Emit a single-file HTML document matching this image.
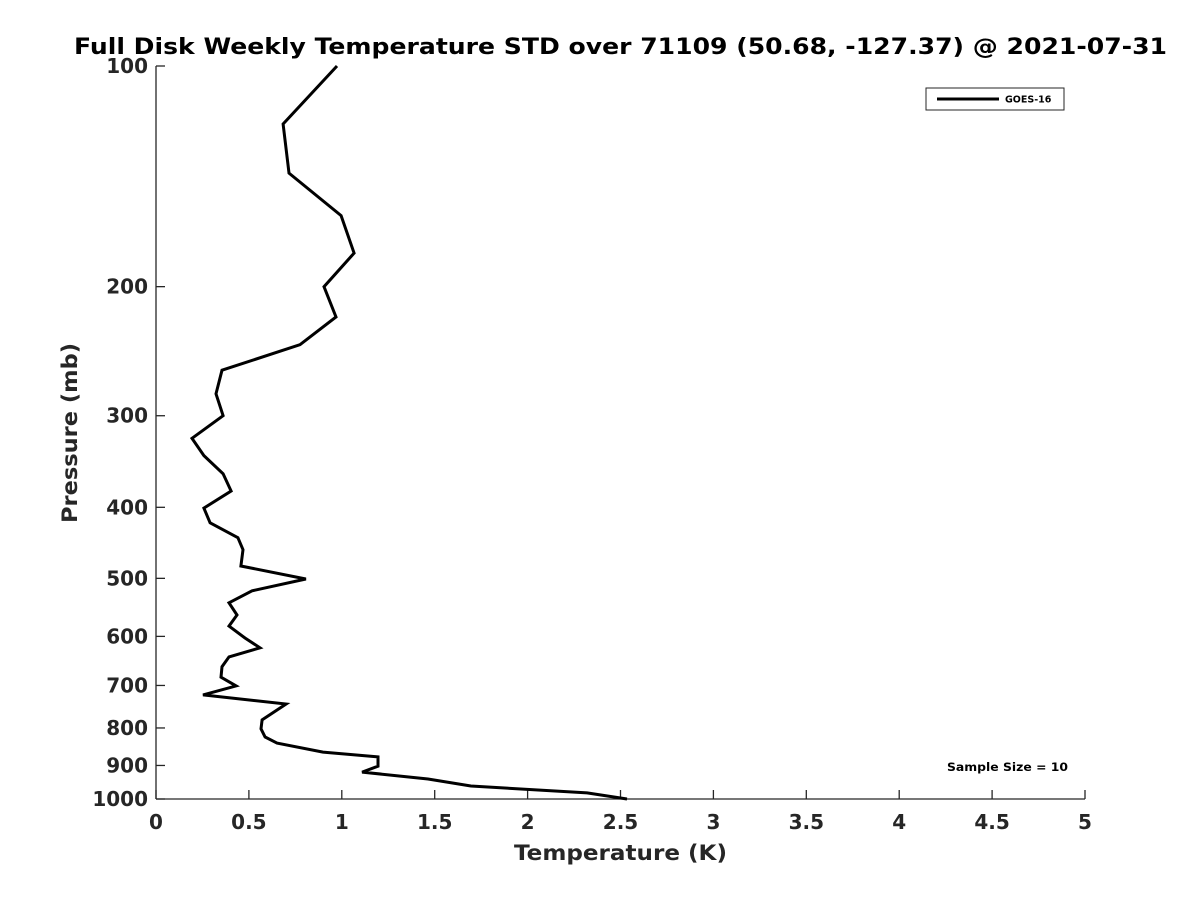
<!DOCTYPE html>
<html><head><meta charset="utf-8"><style>
body{margin:0;background:#fff;}
svg text{font-family:"DejaVu Sans","Liberation Sans",sans-serif;font-weight:bold;fill:#262626;}
</style></head><body>
<svg id="chart" width="1200" height="900" xmlns="http://www.w3.org/2000/svg">
<rect width="1200" height="900" fill="#fff"/>
<text x="74" y="54" font-size="22" textLength="1093" lengthAdjust="spacingAndGlyphs" style="fill:#000">Full Disk Weekly Temperature STD over 71109 (50.68, -127.37) @ 2021-07-31</text>
<g id="axes"></g>
<path id="series" fill="none" stroke="#000" stroke-width="3" stroke-linejoin="miter"/>
<g>
<rect x="926" y="88" width="138" height="22" fill="#fff" stroke="#262626" stroke-width="1"/>
<line x1="937" y1="99" x2="999" y2="99" stroke="#000" stroke-width="3"/>
<text x="1005" y="102.5" font-size="9.5" style="fill:#000">GOES-16</text>
</g>
<text x="947" y="771" font-size="11.5" textLength="121" lengthAdjust="spacingAndGlyphs" style="fill:#000">Sample Size = 10</text>
<text x="514" y="860" font-size="21" textLength="213" lengthAdjust="spacingAndGlyphs">Temperature (K)</text>
<text transform="translate(77,523) rotate(-90)" font-size="21" textLength="180" lengthAdjust="spacingAndGlyphs">Pressure (mb)</text>
</svg>
<script>
const temps=[0.974,0.684,0.716,0.996,1.066,0.904,0.969,0.775,0.355,0.323,0.361,0.194,0.258,0.361,0.404,0.258,0.291,0.441,0.468,0.457,0.807,0.517,0.393,0.436,0.393,0.479,0.560,0.393,0.355,0.350,0.431,0.253,0.700,0.571,0.565,0.587,0.651,0.899,1.195,1.195,1.109,1.464,1.695,2.320,2.535];
const pressures=[100,120,140,160,180,200,220,240,260,280,300,322,340,360,380,401,420,440,457,481,501,520,540,561,581,603,622,640,660,682,701,721,742,780,802,823,839,863,876,902,919,939,960,981,1000];
const xTicks=[0,0.5,1,1.5,2,2.5,3,3.5,4,4.5,5];
const xTickLabels=["0","0.5","1","1.5","2","2.5","3","3.5","4","4.5","5"];
const yTicks=[100,200,300,400,500,600,700,800,900,1000];
const L=156,R=1085,T=66,B=799;
const xs=v=>L+(v-0)/(5-0)*(R-L);
const ys=p=>T+Math.log10(p/100)/Math.log10(1000/100)*(B-T);
const NS="http://www.w3.org/2000/svg";
const ax=document.getElementById('axes');
function mk(tag,attrs){const e=document.createElementNS(NS,tag);for(const k in attrs)e.setAttribute(k,attrs[k]);ax.appendChild(e);return e;}
let e=mk('line',{x1:L,y1:T,x2:L,y2:B,stroke:'#262626','stroke-width':1.3});


e=mk('line',{x1:L,y1:B,x2:R,y2:B,stroke:'#262626','stroke-width':1.3});


xTicks.forEach((v,i)=>{
 const x=xs(v);
 const t=mk('line',{x1:x,y1:B,x2:x,y2:B-9,stroke:'#262626','stroke-width':1.3});
 
 
 const l=mk('text',{x:x,y:B+30,'text-anchor':'middle','font-size':20});
 l.textContent=xTickLabels[i];
 
 
});
yTicks.forEach(p=>{
 const y=ys(p);
 const t=mk('line',{x1:L,y1:y,x2:L+9,y2:y,stroke:'#262626','stroke-width':1.3});
 
 
 const l=mk('text',{x:L-8,y:y+7,'text-anchor':'end','font-size':20});
 l.textContent=String(p);
 
 
});
document.getElementById('series').setAttribute('d',temps.map((t,i)=>(i?'L':'M')+xs(t).toFixed(1)+' '+ys(pressures[i]).toFixed(1)).join(' '));
</script>
</body></html>
